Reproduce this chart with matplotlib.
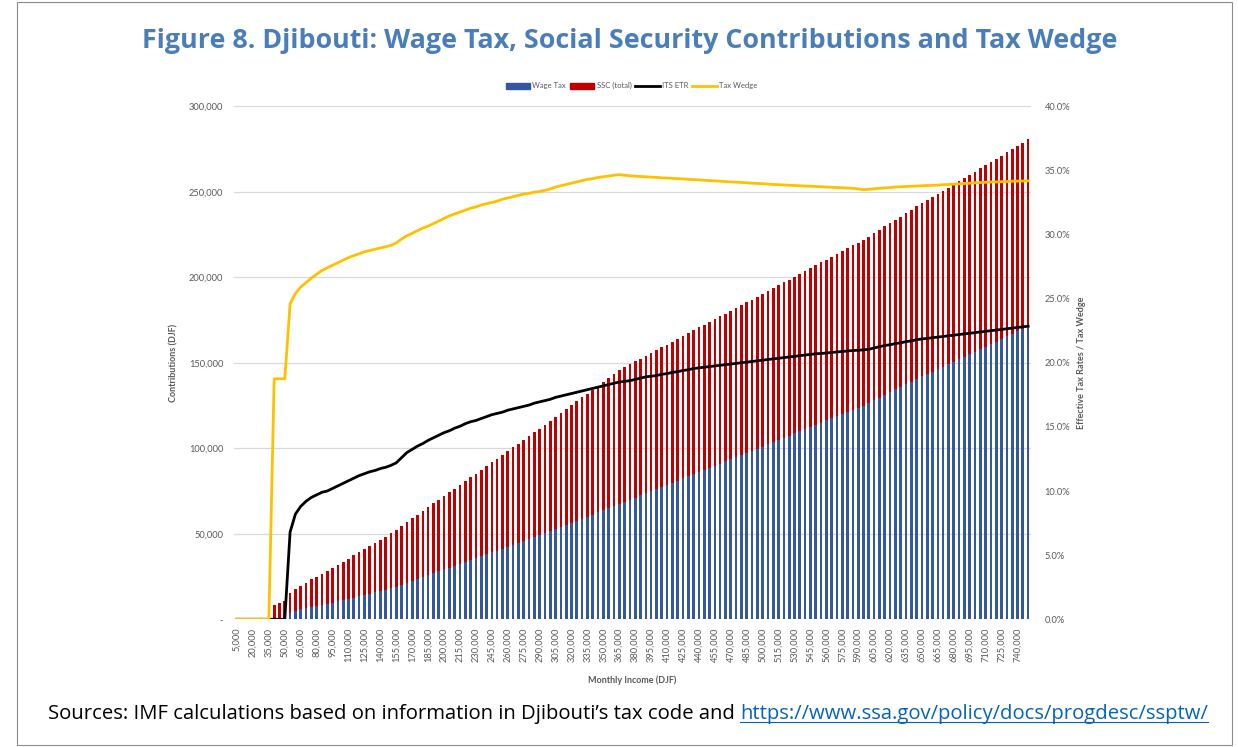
import matplotlib
matplotlib.use("Agg")
import matplotlib.pyplot as plt
from matplotlib.patches import Patch, Rectangle
from matplotlib.lines import Line2D
from matplotlib.ticker import FuncFormatter

# monthly income categories (DJF), one bar per 5,000
income = list(range(5000, 755000, 5000))

wage_tax = [
    0, 0, 0, 0, 0, 0, 0, 0, 0, 0,
    3740, 4920, 5720, 6440, 7130, 7760, 8420, 9000, 9690, 10400,
    11130, 11880, 12650, 13440, 14190, 14950, 15660, 16450, 17180, 18000,
    18910, 20160, 21450, 22530, 23630, 24660, 25810, 26890, 27980, 29100,
    30140, 31290, 32360, 33550, 34650, 35650, 36780, 37920, 39080, 40130,
    41180, 42380, 43460, 44550, 45650, 46760, 48020, 49160, 50300, 51450,
    52770, 53940, 55130, 56320, 57530, 58740, 59970, 61200, 62450, 63700,
    64970, 66240, 67530, 68640, 69750, 71060, 72380, 73710, 74850, 76000,
    77360, 78520, 79890, 81060, 82450, 83640, 85040, 86240, 87440, 88650,
    89860, 91080, 92300, 93530, 94760, 96000, 97240, 98490, 99740, 101000,
    102260, 103530, 104800, 106080, 107360, 108650, 109940, 111240, 112540, 113850,
    115000, 116260, 117520, 118790, 120060, 121340, 122560, 123780, 124950, 126300,
    127960, 129630, 131300, 132680, 134380, 135770, 137480, 138880, 140610, 142030,
    143450, 144870, 146300, 147740, 149180, 150620, 152070, 153530, 154990, 156450,
    157920, 159400, 160880, 162360, 163850, 165350, 166850, 168350, 169860, 171380,
]

ssc = [
    0, 0, 0, 0, 0, 0, 0, 8600, 9680, 10750,
    11830, 12900, 13980, 15050, 16130, 17200, 18280, 19350, 20430, 21500,
    22580, 23650, 24730, 25800, 26880, 27950, 29030, 30100, 31180, 32250,
    33330, 34400, 35480, 36550, 37630, 38700, 39780, 40850, 41930, 43000,
    44080, 45150, 46230, 47300, 48380, 49450, 50530, 51600, 52680, 53750,
    54830, 55900, 56980, 58050, 59130, 60200, 61280, 62350, 63430, 64500,
    65580, 66650, 67730, 68800, 69880, 70950, 72030, 73100, 74180, 75250,
    76330, 77400, 78480, 78880, 79280, 79680, 80080, 80480, 80880, 81280,
    81680, 82080, 82480, 82880, 83280, 83680, 84080, 84480, 84880, 85280,
    85680, 86080, 86480, 86880, 87280, 87680, 88080, 88480, 88880, 89280,
    89680, 90080, 90480, 90880, 91280, 91680, 92080, 92480, 92880, 93280,
    93680, 94080, 94480, 94880, 95280, 95680, 96080, 96480, 96880, 97280,
    97680, 98080, 98480, 98880, 99280, 99680, 100080, 100480, 100880, 101280,
    101680, 102080, 102480, 102880, 103280, 103680, 104080, 104480, 104880, 105280,
    105680, 106080, 106480, 106880, 107280, 107680, 108080, 108480, 108880, 109280,
]

# percent
its_etr = [
    0, 0, 0, 0, 0, 0, 0, 0, 0, 0,
    6.8, 8.2, 8.8, 9.2, 9.5, 9.7, 9.9, 10.0, 10.2, 10.4,
    10.6, 10.8, 11.0, 11.2, 11.35, 11.5, 11.6, 11.75, 11.85, 12.0,
    12.2, 12.6, 13.0, 13.25, 13.5, 13.7, 13.95, 14.15, 14.35, 14.55,
    14.7, 14.9, 15.05, 15.25, 15.4, 15.5, 15.65, 15.8, 15.95, 16.05,
    16.15, 16.3, 16.4, 16.5, 16.6, 16.7, 16.85, 16.95, 17.05, 17.15,
    17.3, 17.4, 17.5, 17.6, 17.7, 17.8, 17.9, 18.0, 18.1, 18.2,
    18.3, 18.4, 18.5, 18.55, 18.6, 18.7, 18.8, 18.9, 18.95, 19.0,
    19.1, 19.15, 19.25, 19.3, 19.4, 19.45, 19.55, 19.6, 19.65, 19.7,
    19.75, 19.8, 19.85, 19.9, 19.95, 20.0, 20.05, 20.1, 20.15, 20.2,
    20.25, 20.3, 20.35, 20.4, 20.45, 20.5, 20.55, 20.6, 20.65, 20.7,
    20.72, 20.76, 20.8, 20.84, 20.88, 20.92, 20.95, 20.98, 21.0, 21.05,
    21.15, 21.25, 21.35, 21.4, 21.5, 21.55, 21.65, 21.7, 21.8, 21.85,
    21.9, 21.95, 22.0, 22.05, 22.1, 22.15, 22.2, 22.25, 22.3, 22.35,
    22.4, 22.45, 22.5, 22.55, 22.6, 22.65, 22.7, 22.75, 22.8, 22.85,
]

tax_wedge = [
    0, 0, 0, 0, 0, 0, 0, 18.75, 18.75, 18.75,
    24.6, 25.4, 25.9, 26.25, 26.6, 26.9, 27.2, 27.4, 27.6, 27.8,
    28.0, 28.2, 28.35, 28.5, 28.65, 28.75, 28.85, 28.95, 29.05, 29.15,
    29.35, 29.65, 29.9, 30.1, 30.3, 30.5, 30.65, 30.85, 31.05, 31.25,
    31.45, 31.6, 31.75, 31.9, 32.05, 32.15, 32.3, 32.4, 32.5, 32.6,
    32.75, 32.85, 32.95, 33.05, 33.15, 33.2, 33.3, 33.35, 33.45, 33.55,
    33.7, 33.8, 33.9, 34.0, 34.1, 34.2, 34.3, 34.35, 34.45, 34.5,
    34.55, 34.62, 34.67, 34.62, 34.58, 34.55, 34.52, 34.5, 34.47, 34.45,
    34.42, 34.4, 34.37, 34.35, 34.33, 34.3, 34.28, 34.26, 34.23, 34.2,
    34.18, 34.15, 34.13, 34.1, 34.08, 34.06, 34.03, 34.0, 33.98, 33.96,
    33.93, 33.9, 33.88, 33.86, 33.84, 33.82, 33.8, 33.78, 33.76, 33.74,
    33.72, 33.7, 33.68, 33.66, 33.64, 33.62, 33.6, 33.55, 33.5, 33.52,
    33.56, 33.6, 33.63, 33.66, 33.7, 33.72, 33.74, 33.76, 33.78, 33.8,
    33.82, 33.83, 33.85, 33.88, 33.9, 33.93, 33.95, 33.98, 34.0, 34.03,
    34.05, 34.07, 34.09, 34.1, 34.12, 34.13, 34.15, 34.16, 34.17, 34.18,
]

blue = "#34589f"
red = "#c00000"
gold = "#ffc000"
grey = "#595959"
chart_font = ["Lato", "DejaVu Sans"]

fig = plt.figure(figsize=(12.38, 7.47), dpi=100)
fig.patches.append(Rectangle((17 / 1238, 2 / 747), 1215 / 1238, 743 / 747,
                             transform=fig.transFigure, fill=False,
                             edgecolor="#8c8c8c", lw=0.8))

fig.text(0.509, 0.9455, "Figure 8. Djibouti: Wage Tax, Social Security Contributions and Tax Wedge",
         ha="center", va="center", fontsize=19.4, fontweight="bold", color="#4a7ebb",
         family=["Open Sans", "DejaVu Sans"])

ax = fig.add_axes([0.1893, 0.1710, 0.6433, 0.6868])
x = list(range(len(income)))
ax.bar(x, wage_tax, width=0.5, color=blue, zorder=2)
ax.bar(x, ssc, bottom=wage_tax, width=0.5, color=red, zorder=2)
ax.set_xlim(-0.5, len(income) - 0.5)
ax.set_ylim(0, 300000)
ax.set_yticks(range(0, 300001, 50000))
ax.yaxis.set_major_formatter(FuncFormatter(lambda v, p: "-" if v == 0 else f"{int(v):,}"))
ax.grid(axis="y", color="#d9d9d9", lw=0.9, zorder=0)
ax.set_axisbelow(True)
ax.set_xticks(x[::3])
ax.set_xticklabels([f"{v:,}" for v in income[::3]], rotation=90)
for s in ax.spines.values():
    s.set_visible(False)
ax.tick_params(length=0, labelsize=6.7, labelcolor=grey)
ax.tick_params(axis="y", pad=8)
ax.tick_params(axis="x", pad=6)
for lab in ax.get_xticklabels() + ax.get_yticklabels():
    lab.set_family(chart_font)
ax.set_ylabel("Contributions (DJF)", fontsize=6.5, fontweight="bold", color=grey, family=chart_font)
ax.yaxis.set_label_coords(-0.0707, 0.5)
ax.set_xlabel("Monthly Income (DJF)", fontsize=6.5, fontweight="bold", color=grey, family=chart_font)
ax.xaxis.set_label_coords(0.4994, -0.1086)

ax2 = ax.twinx()
ax2.plot(x, its_etr, color="black", lw=2.0, zorder=3)
ax2.plot(x, tax_wedge, color=gold, lw=2.0, zorder=4)
ax2.set_ylim(0, 40)
ax2.set_yticks(range(0, 41, 5))
ax2.yaxis.set_major_formatter(FuncFormatter(lambda v, p: f"{v:.1f}%"))
for s in ax2.spines.values():
    s.set_visible(False)
ax2.tick_params(length=0, labelsize=6.7, labelcolor=grey, pad=10)
for lab in ax2.get_yticklabels():
    lab.set_family(chart_font)
ax2.set_ylabel("Effective Tax Rates / Tax Wedge", fontsize=6.5, fontweight="bold", color=grey,
               family=chart_font)
ax2.yaxis.set_label_coords(1.058, 0.5)

handles = [Patch(color=blue), Patch(color=red),
           Line2D([], [], color="black", lw=2), Line2D([], [], color=gold, lw=2)]
labels = ["Wage Tax", "SSC (total)", "ITS ETR", "Tax Wedge"]
fig.legend(handles, labels, loc="center", bbox_to_anchor=(0.51, 0.885), ncol=4, frameon=False,
           prop={"family": chart_font, "size": 5.5}, labelcolor=grey,
           handlelength=3.2, handleheight=0.8, columnspacing=0.5, handletextpad=0.3)

src_font = ["Open Sans", "DejaVu Sans"]
t1 = fig.text(48 / 1238, 0.0445, "Sources: IMF calculations based on information in Djibouti\u2019s tax code and ",
              ha="left", va="center", fontsize=14.6, color="black", family=src_font)
fig.canvas.draw()
bb = t1.get_window_extent()
x_link = bb.x1 / fig.bbox.width
t2 = fig.text(x_link, 0.0445, "https://www.ssa.gov/policy/docs/progdesc/ssptw/",
              ha="left", va="center", fontsize=14.6, color="#0563c1", family=src_font)
fig.canvas.draw()
bb2 = t2.get_window_extent()
y_ul = (bb2.y0 + 2) / fig.bbox.height
fig.lines.append(Line2D([bb2.x0 / fig.bbox.width, bb2.x1 / fig.bbox.width], [y_ul, y_ul],
                        transform=fig.transFigure, color="#0563c1", lw=0.8))

fig.savefig("out.png", dpi=100)
